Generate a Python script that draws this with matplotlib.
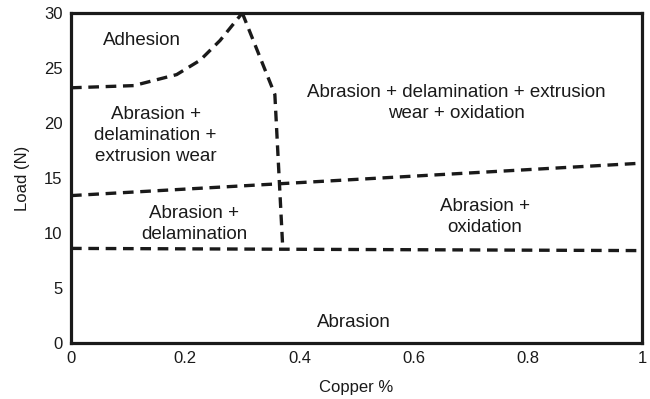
import matplotlib.pyplot as plt

plt.rcParams['font.family'] = ['Liberation Sans', 'DejaVu Sans']

# boundary lines of the wear map (Copper %, Load N)
adh_x = [0.0, 0.11, 0.185, 0.226, 0.261, 0.30]
adh_y = [23.2, 23.4, 24.4, 25.7, 27.5, 30.0]
vert_x = [0.30, 0.357, 0.371]
vert_y = [30.0, 22.6, 8.5]
upper_x = [0.0, 1.0]
upper_y = [13.4, 16.35]
lower_x = [0.0, 1.0]
lower_y = [8.6, 8.4]

labels = ['Adhesion',
          'Abrasion +\ndelamination +\nextrusion wear',
          'Abrasion + delamination + extrusion\nwear + oxidation',
          'Abrasion +\ndelamination',
          'Abrasion +\noxidation',
          'Abrasion']
label_x = [0.125, 0.148, 0.675, 0.216, 0.725, 0.496]
label_y = [27.5, 18.9, 21.8, 10.8, 11.45, 1.9]

fig = plt.figure(figsize=(6.5, 3.99), dpi=100)
ax = fig.add_axes([71/650, 1 - 343/399, 571/650, 330/399])

ls = dict(color='#1a1a1a', lw=2.4, dashes=(3.2, 2.0))
ax.plot(adh_x, adh_y, **ls)
ax.plot(vert_x, vert_y, **ls)
ax.plot(upper_x, upper_y, **ls)
ax.plot(lower_x, lower_y, **ls)

for t, x, y in zip(labels, label_x, label_y):
    ax.text(x, y, t, ha='center', va='center', fontsize=13.5, color='#1a1a1a',
            linespacing=1.3)

ax.set_xlim(0, 1)
ax.set_ylim(0, 30)
ax.set_xticks([0, 0.2, 0.4, 0.6, 0.8, 1])
ax.set_xticklabels(['0', '0.2', '0.4', '0.6', '0.8', '1'])
ax.set_yticks([0, 5, 10, 15, 20, 25, 30])
ax.tick_params(length=0, labelsize=12, colors='#1a1a1a', pad=6)
for s in ax.spines.values():
    s.set_linewidth(2.3)
    s.set_color('#1a1a1a')
ax.set_xlabel('Copper %', fontsize=12, color='#1a1a1a', labelpad=10)
ax.set_ylabel('Load (N)', fontsize=12, color='#1a1a1a', labelpad=10)

plt.savefig('out.png', dpi=100)
